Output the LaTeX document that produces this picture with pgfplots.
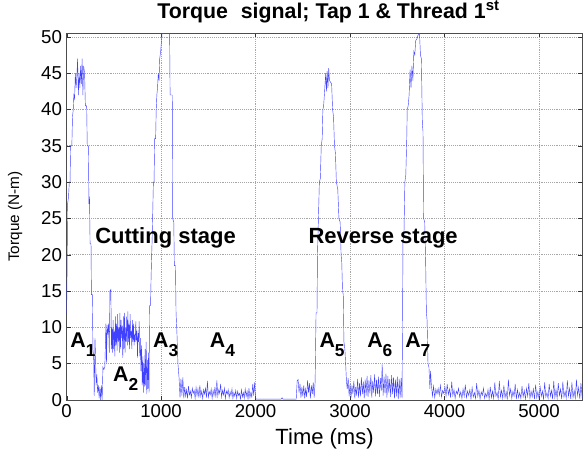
\documentclass[border=0pt]{standalone}
\usepackage{fontspec}
\setmainfont{Liberation Sans}
\usepackage{pgfplots}
\pgfplotsset{compat=1.18}
\usetikzlibrary{calc}
\definecolor{sig}{rgb}{0.25,0.25,1}
\newcommand{\Alab}[1]{A\raisebox{-0.42em}{\fontsize{13}{13}\selectfont #1}}

\begin{document}
\begin{tikzpicture}
\begin{axis}[
  scale only axis, width=387pt, height=275pt,
  xmin=0, xmax=5460, ymin=0, ymax=50.5,
  xtick={0,1000,...,5000}, ytick={0,5,...,50},
  /pgf/number format/1000 sep={}, scaled x ticks=false,
  /pgf/number format/assume math mode=true,
  tick label style={font=\fontsize{14}{14}\selectfont},
  tick align=inside, major tick length=3pt,
  tick style={black!80},
  axis line style={black!70},
  grid=major, major grid style={black!35, densely dotted, line width=0.5pt},
  xlabel={Time (ms)}, ylabel={Torque (N-m)},
  xlabel style={font=\fontsize{16.5}{16.5}\selectfont, at={(axis description cs:0.5,-0.122)}, anchor=base},
  ylabel style={font=\fontsize{11.5}{11.5}\selectfont, at={(axis description cs:-0.1,0.5)}, anchor=center},
  clip=true,
]
\addplot[sig, line width=0.32pt] coordinates {
(0,12)(5,18)(10,27)(20,28)(28,30)(36,30)(42,35)(55,35)(62,39)(70,40)(76,42)(84,41.5)(92,45)(100,43)(108,44.5)(116,47)(124,42)(132,45)(140,43)(148,46)(156,43.5)(164,47)(172,42)(180,46)(190,45)(198,40.5)(212,40.5)(218,35)(230,35)(236,27)(242,28)(248,21.5)(258,21.5)(262,14.5)(272,14.5)
(278,7)(286,6)(292,0.5)(300,8.5)(306,6)(312,2)(320,3.5)(328,1)(336,2)(344,0.2)(352,1.8)(360,0)(368,2)(376,0)(384,4.5)(394,4.2)(404,4.5)(410,7.5)(416,10.5)(422,5)(428,10.3)(436,9)(444,10.5)(452,6.5)
(458,15)(468,15.2)(474,7)(480,10)(486,6.5)(492,11)(498,7)(504,9.5)(510,6)(516,11.5)(522,7.5)(528,10.5)(534,6.8)(540,11.8)(546,8)(552,10)(558,6.5)(564,12)(570,7)(576,11)(582,8.5)(588,10.2)(594,5.8)(600,11.5)(606,7)(612,12)(618,6.5)(624,10)(630,8)(636,11.5)(642,7.5)(648,12.2)(654,8)(660,10.5)(666,7)(672,11.8)(678,8.5)(684,9.5)(690,7)(696,11)(702,8)(708,10.5)(714,7.5)(720,9)(726,8)(732,10.8)(738,8.2)(744,9.5)(750,5.8)(756,9.2)(762,8)(768,10.8)(774,6)(780,8.5)(786,4)(792,7.5)
(800,2)(806,6)(812,1)(818,5)(824,1.8)(830,7)(836,2)(842,8)(848,0.8)(854,5.5)(860,1.5)(866,6.5)(872,1)(878,13)(888,13)(894,17)
(900,20)(905,22)(910,25)(918,30)(925,30)(932,36)(942,36)(948,40)(955,42)(962,43)(970,45)(978,44)(985,47)(995,48)(1010,50.5)(1090,50.5)(1095,42)(1118,42)(1122,25)(1134,24.5)(1140,18.5)(1152,18.5)(1158,12)(1168,9)(1178,5)(1190,3)
(1200,0.3)(1210,2.9)(1220,0.6)(1230,3.1)(1240,0.2)(1250,1.8)(1260,0.5)(1270,1.4)(1280,0.2)(1290,1.9)(1300,0.7)(1310,1.2)(1320,0.3)(1330,1.6)(1340,0.9)(1350,1.3)(1360,0.2)(1370,1.7)(1380,0.6)(1390,1.5)(1400,0.3)(1410,2.0)(1420,0.5)(1430,1.2)(1440,0.2)(1450,1.4)(1460,0.8)(1470,1.6)(1480,0.3)(1490,2.6)(1500,0.4)(1510,1.1)(1520,0.7)(1530,1.5)(1540,0.2)(1550,1.3)(1560,0.6)(1570,1.8)(1580,0.3)(1590,2.7)(1600,0.5)(1610,1.4)(1620,0.9)(1630,2.2)(1640,0.4)(1650,1.3)(1660,0.7)(1670,1.6)(1680,0.2)(1690,1.2)(1700,0.8)(1710,1.4)(1720,0.3)(1730,1.1)(1740,0.6)(1750,1.5)(1760,0.2)(1770,1.0)(1780,0.5)(1790,1.3)(1800,0.2)(1810,1.2)(1820,0.6)(1830,0.9)(1840,0.1)(1850,1.4)(1860,0.4)(1870,1.0)(1880,0.2)(1890,1.5)(1900,0.5)(1910,1.2)(1920,0.1)(1930,1.6)(1940,0.3)(1950,1.0)(1960,0.4)(1970,2.2)(1980,0.6)(1990,2.4)(2000,0.2)
(2010,0.1)(2270,0.1)(2280,0.3)(2290,0.1)(2420,0.1)
(2430,0.1)(2440,2.6)(2450,2.8)(2460,1.0)(2470,2.2)(2480,0.3)(2490,1.8)(2500,0.5)(2510,2.0)(2520,0.2)(2530,1.5)(2540,0.4)(2550,2.7)(2560,1.0)(2570,2.3)(2580,0.2)(2590,2.0)(2600,0.8)(2610,2.4)(2620,0.3)(2630,2.5)
(2640,12)(2650,12)(2655,20)(2665,25)(2675,30)(2685,30.5)(2695,35)(2705,36)(2712,40)(2720,40.5)(2728,42)(2735,43.5)(2742,45)(2750,42.5)(2758,45.3)(2766,43)(2774,45.7)(2782,44)(2792,43.8)(2805,43.5)(2815,40)(2825,39)(2835,35)(2845,34)(2855,30)(2870,29)(2882,25)(2895,24.5)(2905,20)(2912,19)(2920,15)(2928,14.5)(2935,8)(2945,7)(2955,4.5)
(2962,2.5)(2970,1.5)(2980,3.0)(2990,0.5)(3000,2.2)(3010,0.3)(3020,2.0)(3030,0.8)(3040,2.6)(3050,0.2)(3060,1.8)(3070,0.6)(3080,2.9)(3090,0.3)(3100,2.3)(3110,0.5)(3120,3.1)(3130,0.8)(3140,2.5)(3150,0.2)(3160,2.8)(3170,0.6)(3180,3.3)(3190,0.4)(3200,2.7)(3210,0.9)(3220,3.4)(3230,0.3)(3240,2.6)(3250,1.0)(3260,3.5)(3270,0.5)(3280,2.8)(3290,0.8)(3300,3.2)(3310,0.4)(3320,3.0)(3330,1.2)(3340,4.9)(3350,0.6)(3360,3.2)(3370,0.9)(3380,3.6)(3390,0.3)(3400,3.3)(3410,1.0)(3420,2.9)(3430,0.4)(3440,3.4)(3450,0.8)(3460,3.1)(3470,0.2)(3480,2.8)(3490,0.5)(3500,3.2)(3510,0.1)(3520,2.9)(3530,0.3)(3540,3.0)(3550,0.2)
(3555,10)(3560,22)(3570,22.5)(3580,30)(3590,31)(3600,36)(3605,40)(3615,40.5)(3625,42)(3635,45.5)(3645,43)(3655,46)(3665,44)(3675,48)(3685,47.5)(3695,49.5)(3710,49.8)(3720,50.3)(3735,50.5)(3745,47.5)(3755,47)(3765,38)(3772,37)(3778,25)(3790,24.5)(3800,19)(3808,12)(3815,11)(3825,5)(3835,4.5)(3845,1.5)(3852,4)
(3860,2.2)(3872,0.5)(3884,1.9)(3896,0.3)(3908,1.5)(3920,0.8)(3932,1.6)(3944,0.6)(3956,2.0)(3968,0.4)(3980,1.3)(3992,0.9)(4004,1.8)(4016,0.5)(4028,2.2)(4040,0.7)(4052,1.5)(4064,0.3)(4076,2.5)(4088,0.6)(4100,1.4)(4112,0.2)(4124,1.2)(4136,0.8)(4148,1.6)(4160,0.4)(4172,1.1)(4184,0.2)(4196,1.5)(4208,0.5)(4220,2.1)(4232,0.3)(4244,1.2)(4256,0.6)(4268,1.4)(4280,0.1)(4292,1.7)(4304,0.4)(4316,1.0)(4328,0.2)(4340,2.3)(4352,0.5)(4364,1.3)(4376,0.1)(4388,1.1)(4400,0.6)(4412,1.6)(4424,0.2)(4436,0.9)(4448,0.4)(4460,1.4)(4472,0.1)(4484,1.8)(4496,0.3)(4508,1.2)(4520,0.2)(4532,2.4)(4544,0.5)(4556,1.0)(4568,0.1)(4580,2.6)(4592,0.4)(4604,1.3)(4616,0.2)(4628,2.0)(4640,0.3)(4652,1.1)(4664,0.1)(4676,2.8)(4688,0.6)(4700,1.5)(4712,0.2)(4724,1.2)(4736,0.5)(4748,2.2)(4760,0.1)(4772,1.4)(4784,0.3)(4796,1.0)(4808,0.2)(4820,1.9)(4832,0.4)(4844,1.3)(4856,0.1)(4868,1.6)(4880,0.5)(4892,2.3)(4904,0.2)(4916,1.2)(4928,0.4)(4940,1.5)(4952,0.1)(4964,2.1)(4976,0.3)(4988,1.1)(5000,0.2)(5012,1.8)(5024,0.5)(5036,1.2)(5048,0.1)(5060,2.4)(5072,0.4)(5084,1.0)(5096,0.2)(5108,2.2)(5120,0.5)(5132,1.3)(5144,0.1)(5156,2.6)(5168,0.3)(5180,1.4)(5192,0.2)(5204,2.3)(5216,0.6)(5228,1.5)(5240,0.1)(5252,2.5)(5264,0.4)(5276,1.2)(5288,0.2)(5300,2.7)(5312,0.5)(5324,1.6)(5336,0.1)(5348,2.4)(5360,0.3)(5372,1.3)(5384,0.2)(5396,2.8)(5408,0.6)(5420,1.7)(5432,0.1)(5444,2.3)(5456,0.4)(5468,1.5)
};
\begin{scope}[every node/.style={font=\bfseries\fontsize{16.5}{16.5}\selectfont, anchor=base west, inner sep=0pt}]
\node at (axis cs:300,21.6) {Cutting stage};
\node at (axis cs:2558,21.6) {Reverse stage};
\end{scope}
\begin{scope}[every node/.style={font=\bfseries\fontsize{16}{16}\selectfont, anchor=base west, inner sep=0pt}]
\node at (axis cs:37,7.2) {\Alab{1}};
\node at (axis cs:490,2.5) {\Alab{2}};
\node at (axis cs:913,7.2) {\Alab{3}};
\node at (axis cs:1514,7.2) {\Alab{4}};
\node at (axis cs:2674,7.2) {\Alab{5}};
\node at (axis cs:3180,7.2) {\Alab{6}};
\node at (axis cs:3582,7.2) {\Alab{7}};
\end{scope}
\end{axis}
\node[anchor=base, inner sep=0pt, font=\bfseries\fontsize{16}{16}\selectfont]
  at ($(current axis.north)+(3pt,11pt)$) {Torque\hspace{0.6em}signal; Tap 1 \& Thread 1\textsuperscript{st}};
\pgfresetboundingbox
\path[use as bounding box] ($(current axis.south west)+(-50pt,-40pt)$) rectangle ($(current axis.north east)+(0.4pt,25pt)$);
\end{tikzpicture}
\end{document}
